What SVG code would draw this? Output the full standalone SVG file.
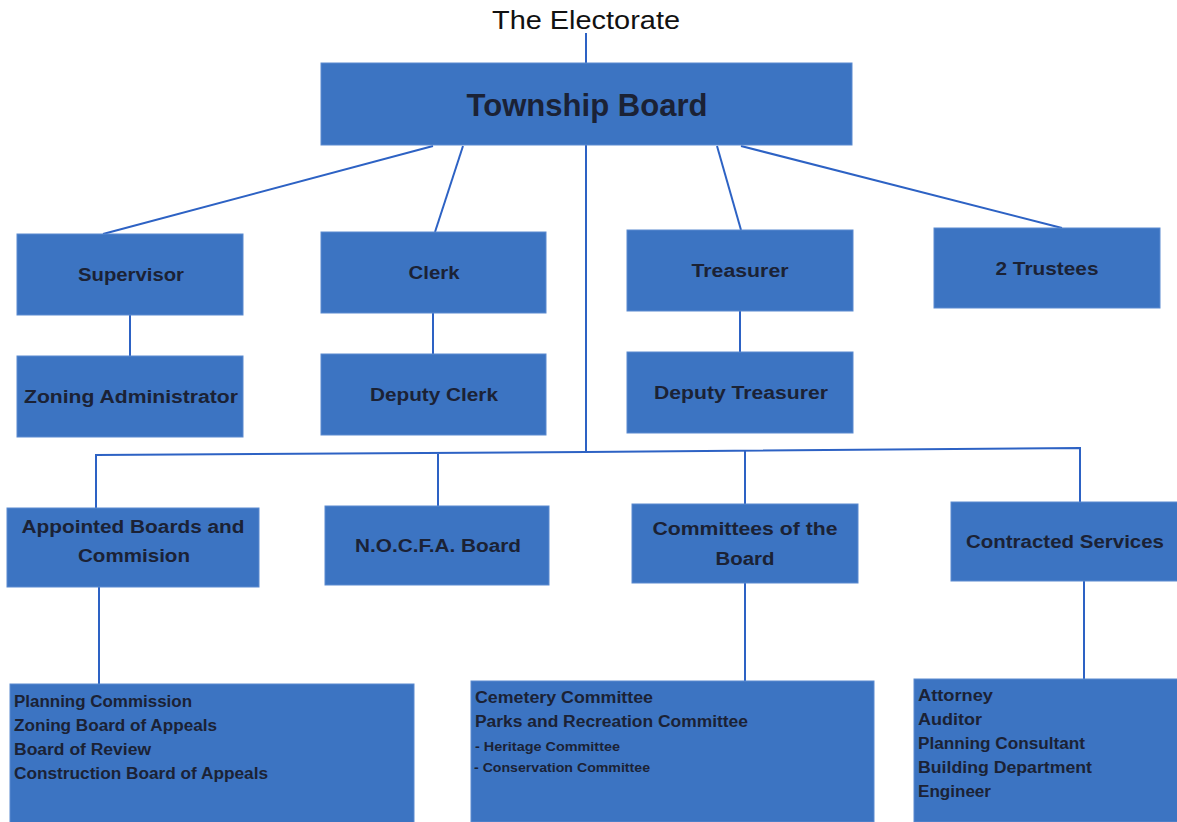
<svg xmlns="http://www.w3.org/2000/svg" width="1177" height="822" viewBox="0 0 1177 822">
<style>
.box{fill:#3c74c2;stroke:#5a8ad0;stroke-width:1}
.t{font-family:"Liberation Sans",Arial,sans-serif;font-weight:bold;fill:#1b2235;text-anchor:middle;font-size:18px}
.l{font-family:"Liberation Sans",Arial,sans-serif;font-weight:bold;fill:#1b2235;font-size:16px}
.s{font-family:"Liberation Sans",Arial,sans-serif;font-weight:bold;fill:#1b2235;font-size:12px}
.c{stroke:#2d62c4;stroke-width:2;fill:none}
</style>
<rect width="1177" height="822" fill="#ffffff"/>
<g id="connectors">
<line class="c" x1="586" y1="33" x2="586" y2="63"/>
<line class="c" x1="433" y1="146" x2="103" y2="234"/>
<line class="c" x1="463" y1="146" x2="435" y2="232"/>
<line class="c" x1="586" y1="145" x2="586" y2="452"/>
<line class="c" x1="717" y1="146" x2="741" y2="230"/>
<line class="c" x1="741" y1="146" x2="1062" y2="228"/>
<line class="c" x1="130" y1="315" x2="130" y2="356"/>
<line class="c" x1="433" y1="313" x2="433" y2="354"/>
<line class="c" x1="740" y1="311" x2="740" y2="352"/>
<polyline class="c" points="96,508 96,455 586,452 1080,448 1080,502"/>
<line class="c" x1="438" y1="454" x2="438" y2="506"/>
<line class="c" x1="745" y1="451" x2="745" y2="504"/>
<line class="c" x1="99" y1="587" x2="99" y2="684"/>
<line class="c" x1="745" y1="583" x2="745" y2="681"/>
<line class="c" x1="1084" y1="581" x2="1084" y2="679"/>
</g>
<g id="electorate">
<text x="586" y="29" font-family="'Liberation Sans',Arial,sans-serif" font-size="25" fill="#111111" text-anchor="middle" textLength="188" lengthAdjust="spacingAndGlyphs">The Electorate</text>
</g>
<g id="township-board">
<rect class="box" x="321" y="63" width="531" height="82"/>
<text class="t" x="587" y="116" font-size="31" textLength="241" lengthAdjust="spacingAndGlyphs" style="font-size:31px">Township Board</text>
</g>
<g id="supervisor">
<rect class="box" x="17" y="234" width="226" height="81"/>
<text class="t" x="131" y="281" textLength="106" lengthAdjust="spacingAndGlyphs">Supervisor</text>
</g>
<g id="clerk">
<rect class="box" x="321" y="232" width="225" height="81"/>
<text class="t" x="434" y="279" textLength="51" lengthAdjust="spacingAndGlyphs">Clerk</text>
</g>
<g id="treasurer">
<rect class="box" x="627" y="230" width="226" height="81"/>
<text class="t" x="740" y="277" textLength="97" lengthAdjust="spacingAndGlyphs">Treasurer</text>
</g>
<g id="trustees">
<rect class="box" x="934" y="228" width="226" height="80"/>
<text class="t" x="1047" y="275" textLength="103" lengthAdjust="spacingAndGlyphs">2 Trustees</text>
</g>
<g id="zoning-administrator">
<rect class="box" x="17" y="356" width="226" height="81"/>
<text class="t" x="131" y="403" textLength="214" lengthAdjust="spacingAndGlyphs">Zoning Administrator</text>
</g>
<g id="deputy-clerk">
<rect class="box" x="321" y="354" width="225" height="81"/>
<text class="t" x="434" y="401" textLength="128" lengthAdjust="spacingAndGlyphs">Deputy Clerk</text>
</g>
<g id="deputy-treasurer">
<rect class="box" x="627" y="352" width="226" height="81"/>
<text class="t" x="741" y="399" textLength="174" lengthAdjust="spacingAndGlyphs">Deputy Treasurer</text>
</g>
<g id="appointed-boards">
<rect class="box" x="7" y="508" width="252" height="79"/>
<text class="t" x="133" y="533" textLength="223" lengthAdjust="spacingAndGlyphs">Appointed Boards and</text>
<text class="t" x="134" y="562" textLength="112" lengthAdjust="spacingAndGlyphs">Commision</text>
</g>
<g id="nocfa-board">
<rect class="box" x="325" y="506" width="224" height="79"/>
<text class="t" x="438" y="552" textLength="166" lengthAdjust="spacingAndGlyphs">N.O.C.F.A. Board</text>
</g>
<g id="committees-of-the-board">
<rect class="box" x="632" y="504" width="226" height="79"/>
<text class="t" x="745" y="535" textLength="185" lengthAdjust="spacingAndGlyphs">Committees of the</text>
<text class="t" x="745" y="565" textLength="59" lengthAdjust="spacingAndGlyphs">Board</text>
</g>
<g id="contracted-services">
<rect class="box" x="951" y="502" width="228" height="79"/>
<text class="t" x="1065" y="548" textLength="198" lengthAdjust="spacingAndGlyphs">Contracted Services</text>
</g>
<g id="appointed-list">
<rect class="box" x="10" y="684" width="404" height="140"/>
<text class="l" x="14" y="707" textLength="178" lengthAdjust="spacingAndGlyphs">Planning Commission</text>
<text class="l" x="14" y="731" textLength="203" lengthAdjust="spacingAndGlyphs">Zoning Board of Appeals</text>
<text class="l" x="14" y="755" textLength="137" lengthAdjust="spacingAndGlyphs">Board of Review</text>
<text class="l" x="14" y="779" textLength="254" lengthAdjust="spacingAndGlyphs">Construction Board of Appeals</text>
</g>
<g id="committees-list">
<rect class="box" x="471" y="681" width="403" height="141"/>
<text class="l" x="475" y="703" textLength="178" lengthAdjust="spacingAndGlyphs">Cemetery Committee</text>
<text class="l" x="475" y="727" textLength="273" lengthAdjust="spacingAndGlyphs">Parks and Recreation Committee</text>
<text class="s" x="475" y="751" textLength="145" lengthAdjust="spacingAndGlyphs">- Heritage Committee</text>
<text class="s" x="474" y="772" textLength="176" lengthAdjust="spacingAndGlyphs">- Conservation Committee</text>
</g>
<g id="contracted-list">
<rect class="box" x="914" y="679" width="265" height="143"/>
<text class="l" x="918" y="701" textLength="75" lengthAdjust="spacingAndGlyphs">Attorney</text>
<text class="l" x="918" y="725" textLength="64" lengthAdjust="spacingAndGlyphs">Auditor</text>
<text class="l" x="918" y="749" textLength="167" lengthAdjust="spacingAndGlyphs">Planning Consultant</text>
<text class="l" x="918" y="773" textLength="174" lengthAdjust="spacingAndGlyphs">Building Department</text>
<text class="l" x="918" y="797" textLength="73" lengthAdjust="spacingAndGlyphs">Engineer</text>
</g>
</svg>
